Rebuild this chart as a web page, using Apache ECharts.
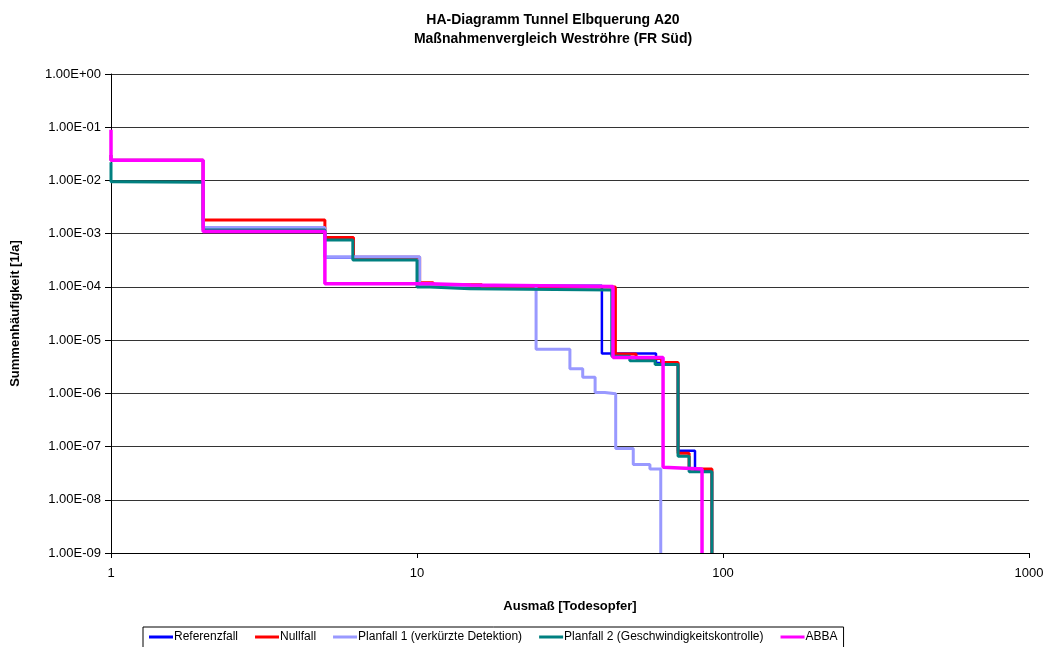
<!DOCTYPE html>
<html>
<head>
<meta charset="utf-8">
<script src="https://cdn.jsdelivr.net/npm/echarts@6/dist/echarts.min.js"></script>
<style>
html, body { margin: 0; padding: 0; background: #fff; }
#chart { width: 1047px; height: 647px; }
</style>
</head>
<body>
<div id="chart"></div>
<script>
// Stufen: jeder Punkt = Beginn einer Stufe (x, Häufigkeit)
var refX = [1, 1, 2, 5, 10.2, 40.2, 60.4, 71.3, 81, 92];
var refY = [0.03, 0.024, 1.3e-3, 3.6e-4, 1.05e-4, 5.6e-6, 3.7e-6, 8.3e-8, 3.5e-8, 1e-9];

var nullX = [1, 1, 2, 5, 6.2, 10.2, 11.3, 16.3, 44.5, 52, 63, 71.3, 77.5, 92];
var nullY = [0.03, 0.024, 1.8e-3, 8.5e-4, 3.6e-4, 1.2e-4, 1.1e-4, 1.0e-4, 5.5e-6, 4.5e-6, 3.8e-6, 7.5e-8, 3.8e-8, 1e-9];

var plan1X = [1, 1, 2, 5, 10.2, 24.5, 31.6, 34.8, 38.2, 41.1, 44.6, 50.9, 57.7, 62.6];
var plan1Y = [0.03, 0.024, 1.3e-3, 3.7e-4, 1.05e-4, 6.7e-6, 2.9e-6, 2.0e-6, 1.04e-6, 9.8e-7, 9.2e-8, 4.6e-8, 3.8e-8, 1e-9];

var plan2X = [1, 1, 1.03, 2, 5, 6.17, 10, 11, 14.9, 43.3, 49.6, 60, 71.3, 77.5, 92];
var plan2Y = [0.022, 0.0095, 0.0092, 1.17e-3, 7.6e-4, 3.2e-4, 1.0e-4, 9.2e-5, 8.7e-5, 5e-6, 4.1e-6, 3.5e-6, 6.6e-8, 3.35e-8, 1e-9];

var abbaX = [1, 1, 2, 5, 11, 15, 43.7, 63.7, 64.5, 85.4];
var abbaY = [0.09, 0.024, 1.1e-3, 1.15e-4, 1.08e-4, 1.02e-4, 4.7e-6, 4.1e-8, 3.8e-8, 1e-9];

var yLabels = ['1.00E-09', '1.00E-08', '1.00E-07', '1.00E-06', '1.00E-05',
	'1.00E-04', '1.00E-03', '1.00E-02', '1.00E-01', '1.00E+00'];
var xLabels = ['1', '10', '100', '1000'];

var font = 'Arial, "Liberation Sans", sans-serif';

function pairs(xs, ys) {
	var out = [];
	for (var i = 0; i < xs.length; i++) {
		out.push([xs[i], ys[i]]);
	}
	return out;
}

function stepSeries(name, color, width, xs, ys) {
	return {
		name: name,
		type: 'line',
		step: 'end',
		symbol: 'none',
		data: pairs(xs, ys),
		lineStyle: { color: color, width: width },
		itemStyle: { color: color }
	};
}

var myChart = echarts.init(document.getElementById('chart'));
myChart.setOption({
	animation: false,
	backgroundColor: '#fff',
	title: {
		text: 'HA-Diagramm Tunnel Elbquerung A20\nMaßnahmenvergleich Weströhre (FR Süd)',
		left: 548,
		top: 6,
		textAlign: 'center',
		textStyle: {
			fontFamily: font,
			fontSize: 14,
			fontWeight: 'bold',
			color: '#000',
			lineHeight: 19
		}
	},
	grid: {
		left: 111,
		right: 18,
		top: 74,
		bottom: 94
	},
	legend: {
		left: 143,
		top: 627,
		icon: 'rect',
		itemWidth: 24,
		itemHeight: 3,
		itemGap: 17,
		padding: [4, 6, 8, 6],
		borderColor: '#000',
		borderWidth: 1,
		textStyle: { fontFamily: font, fontSize: 12, color: '#000', padding: [0, 0, 0, -4] }
	},
	xAxis: {
		type: 'log',
		logBase: 10,
		min: 1,
		max: 1000,
		name: 'Ausmaß [Todesopfer]',
		nameLocation: 'middle',
		nameGap: 47,
		nameTextStyle: { fontFamily: font, fontSize: 13, fontWeight: 'bold', color: '#000' },
		axisLine: { lineStyle: { color: '#000', width: 1 } },
		axisTick: { show: true, length: 5, lineStyle: { color: '#000' } },
		axisLabel: {
			fontFamily: font,
			fontSize: 13,
			color: '#000',
			margin: 14,
			formatter: function(v) {
				var i = Math.round(Math.log10(v));
				return xLabels[i] || '';
			}
		},
		splitLine: { show: false },
		minorTick: { show: false }
	},
	yAxis: {
		type: 'log',
		logBase: 10,
		min: 1e-9,
		max: 1,
		name: 'Summenhäufigkeit [1/a]',
		nameLocation: 'middle',
		nameGap: 89,
		nameRotate: 90,
		nameTextStyle: { fontFamily: font, fontSize: 13, fontWeight: 'bold', color: '#000' },
		axisLine: { show: true, lineStyle: { color: '#000', width: 1 } },
		axisTick: { show: true, length: 6, lineStyle: { color: '#000' } },
		axisLabel: {
			fontFamily: font,
			fontSize: 13,
			color: '#000',
			margin: 10,
			formatter: function(v) {
				var i = Math.round(Math.log10(v)) + 9;
				return yLabels[i] || '';
			}
		},
		splitLine: { show: true, lineStyle: { color: '#333', width: 1 } }
	},
	series: [
		stepSeries('Referenzfall', '#0000ff', 2.5, refX, refY),
		stepSeries('Nullfall', '#ff0000', 3, nullX, nullY),
		stepSeries('Planfall 1 (verkürzte Detektion)', '#9999ff', 3, plan1X, plan1Y),
		stepSeries('Planfall 2 (Geschwindigkeitskontrolle)', '#008080', 3, plan2X, plan2Y),
		stepSeries('ABBA', '#ff00ff', 3.5, abbaX, abbaY)
	]
});
</script>
</body>
</html>
